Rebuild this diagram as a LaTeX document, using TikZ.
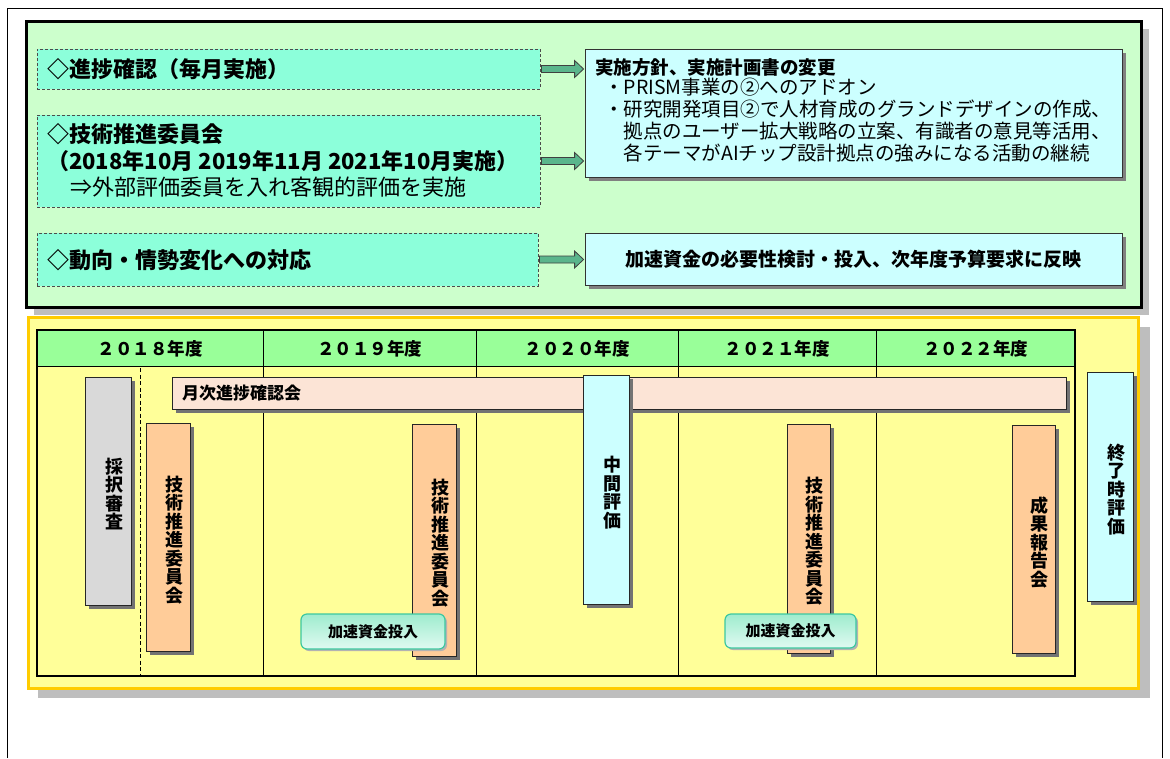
\documentclass[tikz,border=0pt]{standalone}
\usepackage{fontspec}
\setmainfont{Noto Sans CJK JP}
\usetikzlibrary{calc,shadows}
\definecolor{outgreen}{RGB}{204,255,204}
\definecolor{aquabox}{RGB}{140,255,218}
\definecolor{arrowg}{RGB}{90,182,140}
\definecolor{lcyan}{RGB}{204,255,255}
\definecolor{lyellow}{RGB}{255,255,153}
\definecolor{goldline}{RGB}{255,204,0}
\definecolor{hdrgreen}{RGB}{153,255,153}
\definecolor{lgray}{RGB}{217,217,217}
\definecolor{peach}{RGB}{255,204,153}
\definecolor{pinkbar}{RGB}{252,228,214}
\definecolor{mintA}{RGB}{158,236,206}
\definecolor{mintB}{RGB}{224,250,241}
\definecolor{mintline}{RGB}{60,200,160}
\definecolor{panelshadow}{RGB}{190,190,190}
\newcommand\myfs[2]{\fontsize{#1}{#2}\selectfont}
\begin{document}
\begin{tikzpicture}[x=1pt,y=-1pt,
  panel/.style={anchor=center, inner sep=0pt},
  dbox/.style={draw=black!70, dash pattern=on 3pt off 2pt, line width=0.8pt, fill=aquabox, inner sep=0pt},
  ltxt/.style={inner sep=0pt, anchor=base west, font=\bfseries\myfs{22}{26}},
  rbox/.style={draw=black!80, line width=0.8pt, fill=lcyan, inner sep=0pt,
    general shadow={fill=black!50, shadow xshift=4pt, shadow yshift=-4pt}},
  rtxt/.style={inner sep=0pt, anchor=base west, font=\myfs{19.5}{22}},
  barrow/.style={fill=arrowg, draw=black!75, line width=0.8pt,
    to path={($(\tikztostart)+(1,-3.5)$) -- ($(\tikztotarget)+(-10,-3.5)$) -- ($(\tikztotarget)+(-10,-8.5)$) -- ($(\tikztotarget)+(-1,0)$) -- ($(\tikztotarget)+(-10,8.5)$) -- ($(\tikztotarget)+(-10,3.5)$) -- ($(\tikztostart)+(1,3.5)$) -- cycle}},
  vbox/.style={draw=black!85, line width=0.8pt, inner sep=0pt,
    general shadow={fill=black!55, shadow xshift=4pt, shadow yshift=-4pt}},
  vtxt/.style={inner sep=0pt, align=center, font=\bfseries\myfs{18}{18.5}, xshift=6pt, yshift=-3pt},
  hdrtxt/.style={inner sep=0pt, font=\bfseries\myfs{17.5}{20}},
  btn/.style={draw=mintline, line width=1.2pt, rounded corners=6pt, top color=mintA, bottom color=mintB,
    inner sep=0pt, font=\bfseries\myfs{15}{18},
    general shadow={fill=black!30, shadow xshift=2pt, shadow yshift=-2pt}}
]
\useasboundingbox (0,0) rectangle (1170,758);
\fill[white] (0,0) rectangle (1170,758);
% outer frame
\draw[line width=0.8pt] (7,758) -- (7,8) -- (1162,8) -- (1162,758);

% ===== top panel =====
\fill[panelshadow] (34,29) rectangle (1149,315);
\node[panel, draw=black, line width=3pt, fill=outgreen, minimum width=1115pt, minimum height=286pt] (toppanel) at (583.5,164) {};

\node[dbox, minimum width=503pt, minimum height=40pt] (d1) at (288.5,69) {};
\node[dbox, minimum width=503pt, minimum height=92pt] (d2) at (288.5,161) {};
\node[dbox, minimum width=501pt, minimum height=53pt] (d3) at (287.5,259.5) {};

\node[ltxt] (t1) at (47,77.5) {◇進捗確認（毎月実施）};
\node[ltxt] (t2a) at (47,142.5) {◇技術推進委員会};
\node[ltxt] (t2b) at (47,169.5) {（2018年10月 2019年11月 2021年10月実施）};
\node[ltxt, font=\mdseries\myfs{22}{26}] (t2c) at (70,195.5) {⇒外部評価委員を入れ客観的評価を実施};
\node[ltxt] (t3) at (47,268) {◇動向・情勢変化への対応};

\node[rbox, minimum width=537pt, minimum height=128pt] (r1) at (853.5,113) {};
\node[rbox, minimum width=537pt, minimum height=52pt, font=\bfseries\myfs{19}{22}] (r2) at (853.5,259) {加速資金の必要性検討・投入、次年度予算要求に反映};

\node[rtxt, font=\bfseries\myfs{18.5}{22}] (r1t) at (595,74) {実施方針、実施計画書の変更};
\node[rtxt] (r1a) at (604,94.5) {・PRISM事業の②へのアドオン};
\node[rtxt] (r1b) at (604,116) {・研究開発項目②で人材育成のグランドデザインの作成、};
\node[rtxt] (r1c) at (623.5,138) {拠点のユーザー拡大戦略の立案、有識者の意見等活用、};
\node[rtxt] (r1d) at (623.5,160) {各テーマがAIチップ設計拠点の強みになる活動の継続};

\coordinate (e1) at (r1.west |- d1.east);
\coordinate (e2) at (r1.west |- d2.east);
\coordinate (e3) at (r2.west |- d3.east);
\draw[barrow] (d1.east) to (e1);
\draw[barrow] (d2.east) to (e2);
\draw[barrow] (d3.east) to (e3);

% ===== bottom panel =====
\fill[panelshadow] (38,327) rectangle (1150,698);
\node[panel, draw=goldline, line width=3pt, fill=lyellow, minimum width=1110pt, minimum height=371pt] (botpanel) at (583,502.5) {};

\fill[hdrgreen] (37,330) rectangle (1075,366);
\draw[line width=1pt] (37,366) -- (1075,366);
\draw[line width=1pt] (263,330) -- (263,676);
\draw[line width=1pt] (476,330) -- (476,676);
\draw[line width=1pt] (678,330) -- (678,676);
\draw[line width=1pt] (876,330) -- (876,676);
\draw[line width=2.5pt] (37,330) rectangle (1075,676);

\node[hdrtxt] (y18) at (150,349) {２０１８年度};
\node[hdrtxt] (y19) at (369.5,349) {２０１９年度};
\node[hdrtxt] (y20) at (577,349) {２０２０年度};
\node[hdrtxt] (y21) at (777,349) {２０２１年度};
\node[hdrtxt] (y22) at (975.5,349) {２０２２年度};

\draw[line width=1pt, dash pattern=on 4pt off 2.5pt] (140,368) -- (140,674);

% monthly bar
\node[vbox, fill=pinkbar, minimum width=894pt, minimum height=32pt] (bar) at (619,393) {};
\node[inner sep=0pt, anchor=west, font=\bfseries\myfs{17}{20}] (bart) at (182,393) {月次進捗確認会};

% vertical boxes
\node[vbox, fill=lgray, minimum width=46pt, minimum height=228pt] (b1) at (108,491) {};
\node[vtxt] (b1t) at (b1.center) {採\\択\\審\\査};
\node[vbox, fill=peach, minimum width=44pt, minimum height=228pt] (b2) at (168,537) {};
\node[vtxt] (b2t) at (b2.center) {技\\術\\推\\進\\委\\員\\会};
\node[vbox, fill=peach, minimum width=44pt, minimum height=232pt] (b3) at (434,540) {};
\node[vtxt] (b3t) at (b3.center) {技\\術\\推\\進\\委\\員\\会};
\node[vbox, fill=lcyan, minimum width=46pt, minimum height=229pt] (b4) at (606,489.5) {};
\node[vtxt] (b4t) at (b4.center) {中\\間\\評\\価};
\node[vbox, fill=peach, minimum width=43pt, minimum height=229pt] (b5) at (808.5,538.5) {};
\node[vtxt] (b5t) at (b5.center) {技\\術\\推\\進\\委\\員\\会};
\node[vbox, fill=peach, minimum width=43pt, minimum height=228pt] (b6) at (1033.5,539) {};
\node[vtxt] (b6t) at (b6.center) {成\\果\\報\\告\\会};
\node[vbox, fill=lcyan, minimum width=46pt, minimum height=229pt] (b7) at (1110,486.5) {};
\node[vtxt] (b7t) at (b7.center) {終\\了\\時\\評\\価};

% buttons
\node[btn, minimum width=144pt, minimum height=35pt] (k1) at (373,631.5) {加速資金投入};
\node[btn, minimum width=131pt, minimum height=34pt] (k2) at (790.5,631) {加速資金投入};
\end{tikzpicture}
\end{document}
